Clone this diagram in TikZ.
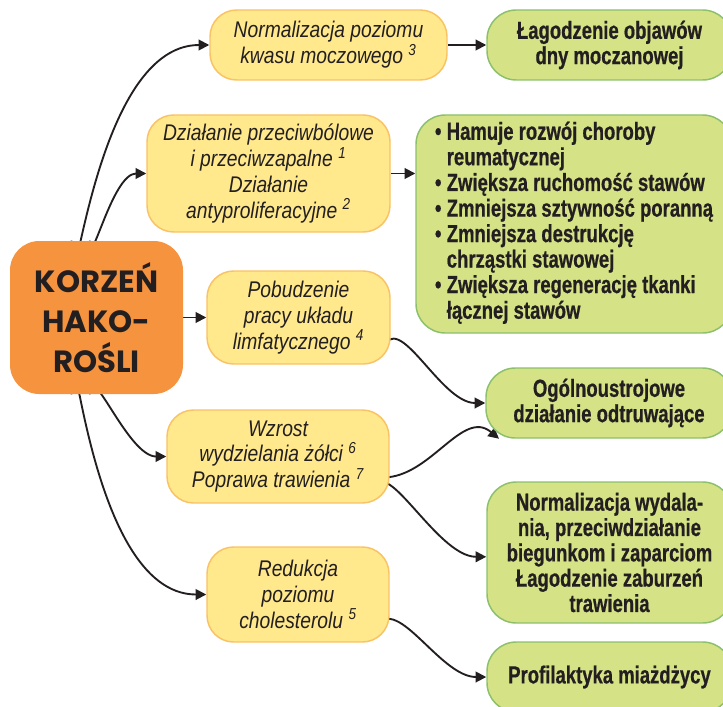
\documentclass[tikz,border=0pt]{standalone}
\usepackage{fontspec}
\setmainfont{Liberation Sans}
\newfontfamily\yelfont{Liberation Sans}[FakeStretch=0.85]
\newfontfamily\grnfont{Liberation Sans}[FakeStretch=0.75, FakeBold=0.6]
\newfontfamily\rootfont{Poppins}
\usetikzlibrary{arrows.meta,backgrounds}

\definecolor{rootfill}{HTML}{F5933F}
\definecolor{yelfill}{HTML}{FFE98C}
\definecolor{yelline}{HTML}{F9C264}
\definecolor{grnfill}{HTML}{D5E286}
\definecolor{grnline}{HTML}{8CC06C}
\definecolor{txtdark}{HTML}{231F20}

\tikzset{
  rootbox/.style={rectangle, rounded corners=22pt, fill=rootfill, draw=none, inner sep=2pt,
    align=center, text=txtdark, font=\rootfont\bfseries\fontsize{23}{30}\selectfont},
  yelbox/.style={rectangle, rounded corners=20pt, fill=yelfill, draw=yelline, line width=1.1pt,
    inner sep=2pt, align=center, text=txtdark, font=\yelfont\itshape\fontsize{17}{19.3}\selectfont},
  grnbox/.style={rectangle, rounded corners=22pt, fill=grnfill, draw=grnline, line width=1.1pt,
    inner sep=2pt, align=center, text=txtdark, font=\grnfont\bfseries\fontsize{18.5}{19}\selectfont},
  conn/.style={-{Triangle[length=8pt,width=8pt]}, line width=1.4pt, draw=txtdark}
}

\begin{document}
\begin{tikzpicture}[x=0.75pt,y=0.75pt,yscale=-1,xscale=1]
\useasboundingbox (0,0) rectangle (723,706);

% root
\node[rootbox, minimum width=129.75pt, minimum height=114.75pt] (root) at (96.5,317.5) {KORZEŃ\\HAKO-\\ROŚLI};

% yellow boxes
\node[yelbox, minimum width=177.75pt, minimum height=52.5pt] (y1) at (328.5,45) {Normalizacja poziomu\\kwasu moczowego \textsuperscript{3}};
\node[yelbox, minimum width=182.25pt, minimum height=87.75pt] (y2) at (268.5,173.5) {Działanie przeciwbólowe\\i przeciwzapalne \textsuperscript{1}\\Działanie\\antyproliferacyjne \textsuperscript{2}};
\node[yelbox, minimum width=137.25pt, minimum height=69.75pt] (y3) at (298.5,317.5) {Pobudzenie\\pracy układu\\limfatycznego \textsuperscript{4}};
\node[yelbox, minimum width=166.5pt, minimum height=69.75pt] (y4) at (278,456.5) {Wzrost\\wydzielania żółci \textsuperscript{6}\\Poprawa trawienia \textsuperscript{7}};
\node[yelbox, minimum width=136.5pt, minimum height=71.25pt] (y5) at (298,594.5) {Redukcja\\poziomu\\cholesterolu \textsuperscript{5}};

% green boxes
\node[grnbox, minimum width=183.75pt, minimum height=52.5pt] (g1) at (609.5,45) {Łagodzenie objawów\\dny moczanowej};
\node[grnbox, minimum width=237pt, minimum height=163.5pt] (g2) at (574,224) {%
  \begin{tabular}{@{}l@{\hspace{4pt}}l@{}}
  \textbullet & Hamuje rozwój choroby\\
              & reumatycznej\\
  \textbullet & Zwiększa ruchomość stawów\\
  \textbullet & Zmniejsza sztywność poranną\\
  \textbullet & Zmniejsza destrukcję\\
              & chrząstki stawowej\\
  \textbullet & Zwiększa regenerację tkanki\\
              & łącznej stawów
  \end{tabular}};
\node[grnbox, minimum width=184.5pt, minimum height=52.5pt] (g3) at (609,403) {Ogólnoustrojowe\\działanie odtruwające};
\node[grnbox, minimum width=183.75pt, minimum height=105.75pt] (g4) at (609.5,552.5) {Normalizacja wydala-\\nia, przeciwdziałanie\\biegunkom i zaparciom\\Łagodzenie zaburzeń\\trawienia};
\node[grnbox, minimum width=183.75pt, minimum height=52.5pt] (g5) at (609.5,677) {Profilaktyka miażdżycy};

% connectors
\begin{scope}[on background layer]
\draw[conn] (root.108) to[out=90,in=180,looseness=1.3] (y1.west);
\draw[conn] (root.95) to[out=90,in=180] (y2.west);
\draw[conn] (root.east) -- (y3.west);
\draw[conn] (root.-95) to[out=-90,in=180] (y4.west);
\draw[conn] (root.-108) to[out=-90,in=180,looseness=1.3] (y5.west);
\draw[conn] (y1.east) -- (g1.west);
\draw[conn] (y2.east) -- (y2.east -| g2.west);
\draw[conn] ([shift={(84,32)}]y3.center) to[out=-70,in=180] (g3.west);
\draw[conn] ([shift={(105,21)}]y4.center) to[out=0,in=-140] (g3.198);
\draw[conn] ([shift={(95,38)}]y4.center) to[out=-80,in=180] (g4.182);
\draw[conn] ([shift={(76,36)}]y5.center) to[out=-65,in=180] (g5.west);
\end{scope}

\end{tikzpicture}
\end{document}
